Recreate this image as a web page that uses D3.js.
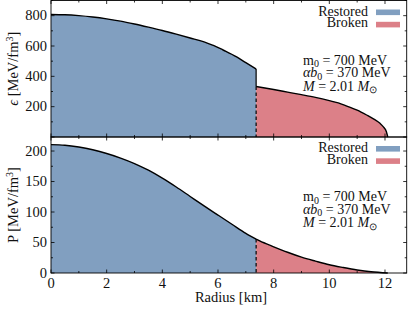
<!DOCTYPE html>
<html><head><meta charset="utf-8">
<script src="https://cdn.jsdelivr.net/npm/d3@7"></script>
<style>body{margin:0;background:#fff;}</style></head><body>
<svg id="c" width="413" height="309"></svg>
<script>
// ---- data ----
const rRestored = [0,0.5,1,1.5,2,2.5,3,3.5,4,4.5,5,5.5,5.83,6.2,6.67,7.0,7.37];
const epsRestored = [808,806,800,791,779,764,745,724,702,678,653,627,604,572,528,490,448];
const rBrokenEps = [7.37,8,8.5,9,9.5,10,10.32,10.7,11,11.34,11.6,11.82,11.95,12.05,12.1];
const epsBroken = [333,313,296,279,261,240,225,199,177,145,118,90,65,35,0];
const rRestoredP = [0,0.5,1,1.5,2,2.5,3,3.5,4,4.5,5,5.5,6,6.5,7,7.37];
const pRestored = [210.5,209.5,206.5,202,196,188.5,179.5,168.5,155.5,141,125.5,110,95,80,65,55.6];
const rBrokenP = [7.37,7.5,8,8.5,9,9.5,10,10.5,11,11.5,12.1];
const pBroken = [55.6,52.5,43,34,26,19.5,13.5,9,5,2,0];
const xTicks = [0,2,4,6,8,10,12];
const epsTicks = [200,400,600,800];
const pTicks = [0,50,100,150,200];
const legendLabels = ["Restored","Broken"];
const transitionR = 7.37;
const epsKinks = [5.83, 10.32];

const FONT = "'Liberation Serif'";
const blue = "#819fc0", red = "#dc8088";
const svg = d3.select("#c");
const L = 51, R = 406.7;
const x = d3.scaleLinear().domain([0,12.78]).range([L,R]);
const yE = d3.scaleLinear().domain([0,900]).range([137,0.5]);
const yP = d3.scaleLinear().domain([0,223]).range([273,137]);

function txt(){ return svg.append("text").attr("font-family",FONT).attr("fill","#111"); }

function curvePath(xs, ys, y, kinks){
  const segs = []; let cur = [];
  xs.forEach((v,i)=>{
    cur.push([v,ys[i]]);
    if (kinks.includes(v) && i>0 && i<xs.length-1){ segs.push(cur); cur=[[v,ys[i]]]; }
  });
  segs.push(cur);
  const l = d3.line().curve(d3.curveMonotoneX).x(d=>x(d[0])).y(d=>y(d[1]));
  return segs.map((s,i)=>{ const p=l(s); return i===0?p:"L"+p.slice(1); }).join("");
}
function drawSeries(xs, ys, y, kinks, color){
  const lp = curvePath(xs, ys, y, kinks);
  const ap = lp + `L${x(xs[xs.length-1])},${y(0)}L${x(xs[0])},${y(0)}Z`;
  svg.append("path").attr("d",ap).attr("fill",color);
  return lp;
}

function panel(y, rA, vA, rB, vB, yTicks, minorStep, labelTop, kinks){
  const [y0,y1] = y.range();
  const la = drawSeries(rA, vA, y, kinks, blue);
  const lb = drawSeries(rB, vB, y, kinks, red);
  [la,lb].forEach(d=>svg.append("path").attr("d",d).attr("fill","none")
    .attr("stroke","#000").attr("stroke-width",1.4).attr("stroke-linejoin","round"));
  const topA = vA[vA.length-1], topB = vB[0];
  if (topA > topB) {
    svg.append("line").attr("x1",x(transitionR)).attr("x2",x(transitionR))
      .attr("y1",y(topA)).attr("y2",y(topB)).attr("stroke","#000").attr("stroke-width",1.2);
  }
  svg.append("line").attr("x1",x(transitionR)).attr("x2",x(transitionR))
    .attr("y1",y(topB)).attr("y2",y(0)).attr("stroke","#000").attr("stroke-width",1.2)
    .attr("stroke-dasharray","3.5,2.5");
  svg.append("rect").attr("x",L).attr("y",y1).attr("width",R-L).attr("height",y0-y1)
    .attr("fill","none").attr("stroke","#000").attr("stroke-width",0.9);
  const g = svg.append("g").attr("stroke","#000").attr("stroke-width",0.8);
  const d = y.domain();
  for (let v=0; v<=d[1]; v+=minorStep){
    const major = yTicks.includes(v) || v===0;
    const len = major?3.5:2;
    g.append("line").attr("x1",L).attr("x2",L+len).attr("y1",y(v)).attr("y2",y(v));
    g.append("line").attr("x1",R).attr("x2",R-len).attr("y1",y(v)).attr("y2",y(v));
  }
  for (let v=0; v<=12.78; v+=1){
    const major = xTicks.includes(v);
    const len = major?3.5:2;
    g.append("line").attr("x1",x(v)).attr("x2",x(v)).attr("y1",y0).attr("y2",y0-len);
    g.append("line").attr("x1",x(v)).attr("x2",x(v)).attr("y1",y1).attr("y2",y1+len);
  }
  yTicks.forEach(v=>{
    txt().attr("x",L-4).attr("y",y(v)+4.5).attr("text-anchor","end")
      .attr("font-size",14.5).text(v);
  });
  const ly = y1 + 15;
  legendLabels.forEach((lab,i)=>{
    txt().attr("x",368).attr("y",ly+i*11.5).attr("text-anchor","end")
      .attr("font-size",14).text(lab);
    svg.append("rect").attr("x",376).attr("y",ly-6+i*12.3).attr("width",24).attr("height",5.6)
      .attr("fill",i===0?blue:red);
  });
  const ay = y1 + 64;
  const fs = 14;
  const t1 = txt().attr("x",303).attr("y",ay).attr("font-size",fs);
  t1.append("tspan").text("m");
  t1.append("tspan").attr("font-size",10).attr("dy",2.5).text("0");
  t1.append("tspan").attr("dy",-2.5).text(" = 700 MeV");
  const t2 = txt().attr("x",303).attr("y",ay+12.8).attr("font-size",fs);
  t2.append("tspan").attr("font-style","italic").text("αb");
  t2.append("tspan").attr("font-size",10).attr("dy",2.5).text("0");
  t2.append("tspan").attr("dy",-2.5).text(" = 370 MeV");
  const t3 = txt().attr("x",303).attr("y",ay+26).attr("font-size",fs);
  t3.append("tspan").attr("font-style","italic").text("M");
  t3.append("tspan").text(" = 2.01 ");
  t3.append("tspan").attr("font-style","italic").text("M");
  t3.append("tspan").attr("font-size",9.5).attr("dy",2.5).text("⊙");
  const cy = (y0+y1)/2;
  const yl = txt().attr("transform",`translate(18,${cy}) rotate(-90)`)
    .attr("text-anchor","middle").attr("font-size",14.5);
  if (labelTop) yl.append("tspan").attr("font-style","italic").text("ϵ");
  else yl.append("tspan").text("P");
  yl.append("tspan").text(" [MeV/fm");
  yl.append("tspan").attr("font-size",10).attr("dy",-5.5).text("3");
  yl.append("tspan").attr("dy",5.5).text("]");
}

panel(yE, rRestored, epsRestored, rBrokenEps, epsBroken, epsTicks, 100, true, epsKinks);
panel(yP, rRestoredP, pRestored, rBrokenP, pBroken, pTicks, 25, false, []);

xTicks.forEach(v=>{
  txt().attr("x",x(v)).attr("y",287.5).attr("text-anchor","middle")
    .attr("font-size",14.5).text(v);
});
txt().attr("x",231).attr("y",302).attr("text-anchor","middle")
  .attr("font-size",14.5).text("Radius [km]");
</script></body></html>
